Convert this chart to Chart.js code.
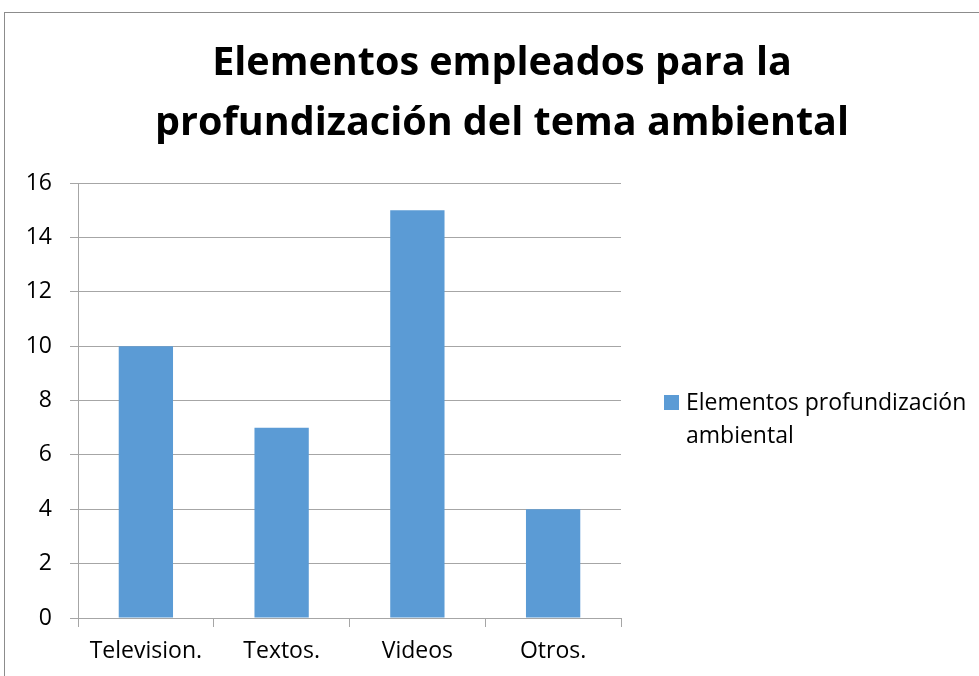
<!DOCTYPE html>
<html>
<head>
<meta charset="utf-8">
<script src="https://cdn.jsdelivr.net/npm/chart.js@4/dist/chart.umd.min.js"></script>
<style>
  html, body { margin: 0; padding: 0; background: #fff; overflow: hidden; }
  #frame { position: absolute; left: 4px; top: 12px; width: 1000px; height: 680px; border: 1px solid #8c8c8c; background:#fff; }
  #frame canvas { display: block; }
</style>
</head>
<body>
<div id="frame"><canvas id="c" width="1000" height="680"></canvas></div>
<script>
const categories = ['Television.', 'Textos.', 'Videos', 'Otros.'];
const seriesName = 'Elementos profundización ambiental';
const seriesValues = [10, 7, 15, 4];
const titleLines = ['Elementos empleados para la', 'profundización del tema ambiental'];
const legendLines = ['Elementos profundización', 'ambiental'];

const FONT = '"Open Sans", sans-serif';
const BAR = '#5B9BD5';
const GRID = '#a6a6a6';

const textPlugin = {
  id: 'titleAndLegend',
  afterDraw(chart) {
    const ctx = chart.ctx;
    ctx.save();
    // title
    ctx.fillStyle = '#000';
    ctx.textBaseline = 'alphabetic';
    ctx.textAlign = 'center';
    ctx.font = 'bold 39.5px ' + FONT;
    ctx.fillText(titleLines[0], 497, 62);
    ctx.fillText(titleLines[1], 497, 122);
    // legend
    ctx.fillStyle = BAR;
    ctx.fillRect(659, 382, 15, 15);
    ctx.fillStyle = '#000';
    ctx.font = '23px ' + FONT;
    ctx.textAlign = 'left';
    ctx.fillText(legendLines[0], 681, 397);
    ctx.fillText(legendLines[1], 681, 430);
    ctx.restore();
  }
};

new Chart(document.getElementById('c'), {
  type: 'bar',
  data: {
    labels: categories,
    datasets: [{
      label: seriesName,
      data: seriesValues,
      backgroundColor: BAR,
      borderWidth: 0,
      barPercentage: 1,
      categoryPercentage: 0.4
    }]
  },
  options: {
    responsive: false,
    animation: false,
    devicePixelRatio: 1,
    layout: { padding: { left: 0, right: 384, top: 170, bottom: 0 } },
    plugins: {
      legend: { display: false },
      tooltip: { enabled: false },
      title: { display: false }
    },
    scales: {
      x: {
        grid: { display: true, drawOnChartArea: false, offset: true, color: GRID, tickLength: 9, lineWidth: 1 },
        border: { display: true, color: GRID, width: 1 },
        ticks: { color: '#000', font: { family: FONT, size: 23 }, padding: 11 },
        afterFit(s) { s.height = 75; }
      },
      y: {
        min: 0, max: 16,
        ticks: { stepSize: 2, color: '#000', font: { family: FONT, size: 23 }, padding: 18 },
        grid: { color: GRID, tickLength: 8, lineWidth: 1 },
        border: { display: true, color: GRID, width: 1 },
        afterFit(s) { s.width = 73; }
      }
    }
  },
  plugins: [textPlugin]
});
</script>
</body>
</html>
